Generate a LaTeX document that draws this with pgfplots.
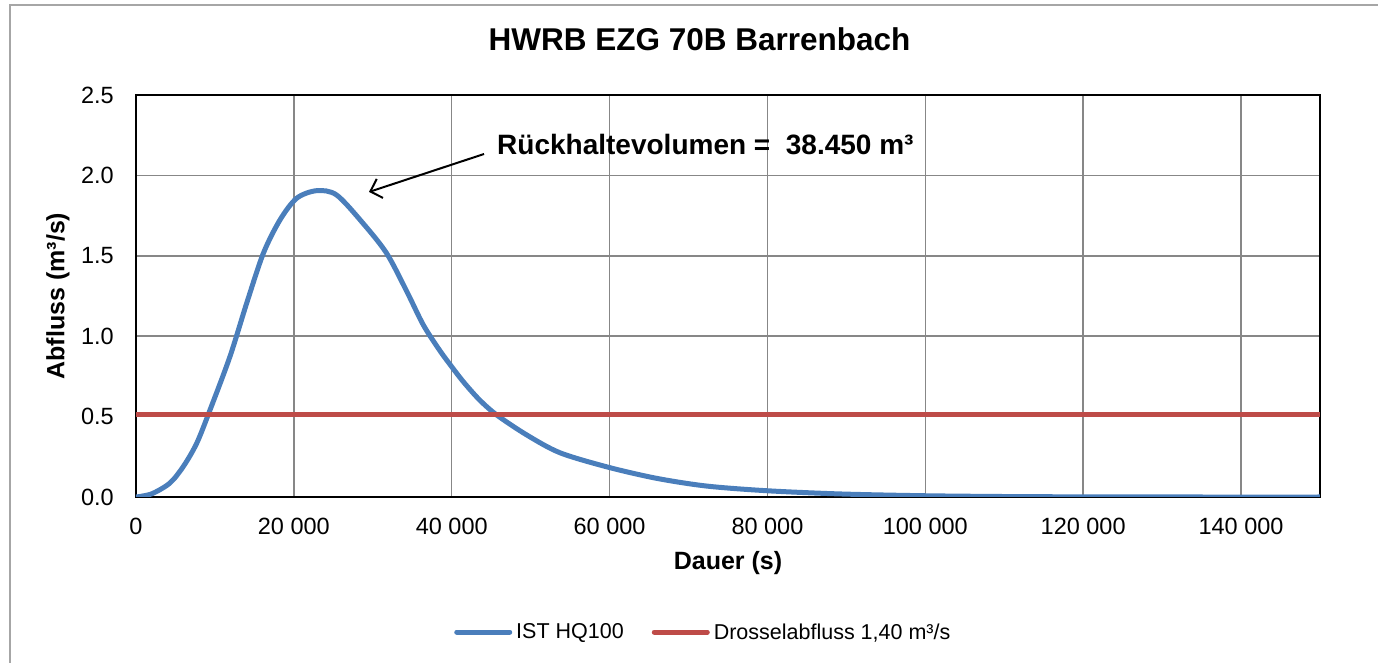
\documentclass[border=0pt]{standalone}
\usepackage{fontspec}
\setmainfont{Liberation Sans}
\usepackage{pgfplots}
\pgfplotsset{compat=1.18}
\usetikzlibrary{arrows.meta}
\definecolor{exblue}{HTML}{4A7EBB}
\definecolor{exred}{HTML}{BE4B48}
\definecolor{gridgray}{HTML}{878787}
\definecolor{framegray}{HTML}{A6A6A6}
\begin{document}
\begin{tikzpicture}[x=1pt,y=1pt]
\useasboundingbox (-136,-166) rectangle (1242,497);
\draw[framegray, line width=2pt] (-126,-170) -- (-126,492) -- (1250,492);
\begin{axis}[
  at={(0,0)}, anchor=origin,
  scale only axis, width=1184pt, height=402pt,
  xmin=0, xmax=150000, ymin=0, ymax=2.5,
  xtick={0,20000,40000,60000,80000,100000,120000,140000},
  xticklabels={0,20 000,40 000,60 000,80 000,100 000,120 000,140 000},
  ytick={0,0.5,1,1.5,2,2.5},
  yticklabels={0.0,0.5,1.0,1.5,2.0,2.5},
  scaled x ticks=false,
  major tick length=0pt,
  grid=major,
  major grid style={gridgray, line width=1.5pt},
  axis line style={black, line width=2pt},
  ticklabel style={font=\fontsize{23.5}{28}\selectfont},
  xticklabel style={inner sep=0pt, anchor=north, yshift=-21pt},
  yticklabel style={inner sep=0pt, anchor=east, xshift=-22pt},
  title={\textbf{HWRB EZG 70B Barrenbach}},
  title style={font=\fontsize{31.5}{36}\selectfont, at={(axis description cs:0.476,1.124)}, anchor=center, inner sep=0pt},
  xlabel={\textbf{Dauer (s)}},
  xlabel style={font=\fontsize{25}{30}\selectfont, at={(axis description cs:0.5,-0.164)}, anchor=center, inner sep=0pt},
  ylabel={\textbf{Abfluss (m³/s)}},
  ylabel style={font=\fontsize{25}{30}\selectfont, at={(axis description cs:-0.066,0.5)}, anchor=center, inner sep=0pt},
  legend style={at={(axis description cs:0.48,-0.336)}, anchor=center, draw=none,
    font=\fontsize{21.5}{26}\selectfont, legend columns=2,
    /tikz/every even column/.append style={column sep=24pt},
    nodes={inner sep=4pt}},
  legend cell align=left,
  legend image code/.code={\draw[#1, line cap=round] (0pt,0pt) -- (53pt,0pt);},
]
\addplot[exblue, line width=5pt, smooth, tension=0.5] coordinates {
(0,0) (2000,0.02) (4300,0.087) (6000,0.19) (7690,0.334) (9375,0.541)
(11900,0.873) (14020,1.205) (16130,1.515) (18240,1.723) (20360,1.858)
(22890,1.905) (25420,1.878) (28800,1.70) (31760,1.515) (34290,1.28)
(36400,1.07) (38500,0.91) (40000,0.81) (41500,0.715) (43500,0.605)
(45700,0.51) (49500,0.386) (53720,0.275) (59840,0.185) (65970,0.116)
(72300,0.068) (79900,0.039) (89190,0.019) (99700,0.008) (110000,0.003)
(120000,0.001) (135000,0) (150000,0)
};
\addlegendentry{IST HQ100}
\addplot[exred, line width=5pt] coordinates {(0,0.51) (150000,0.51)};
\addlegendentry{Drosselabfluss 1,40 m³/s}
\draw[black, line width=2pt, -{Straight Barb[length=10pt,width=20pt]}] (axis cs:44090,2.133) -- (axis cs:29520,1.897);
\node[anchor=west, inner sep=0pt, font=\fontsize{28}{32}\selectfont\bfseries] at (axis cs:45740,2.19) {Rückhaltevolumen =~~38.450 m³};
\end{axis}
\end{tikzpicture}
\end{document}
